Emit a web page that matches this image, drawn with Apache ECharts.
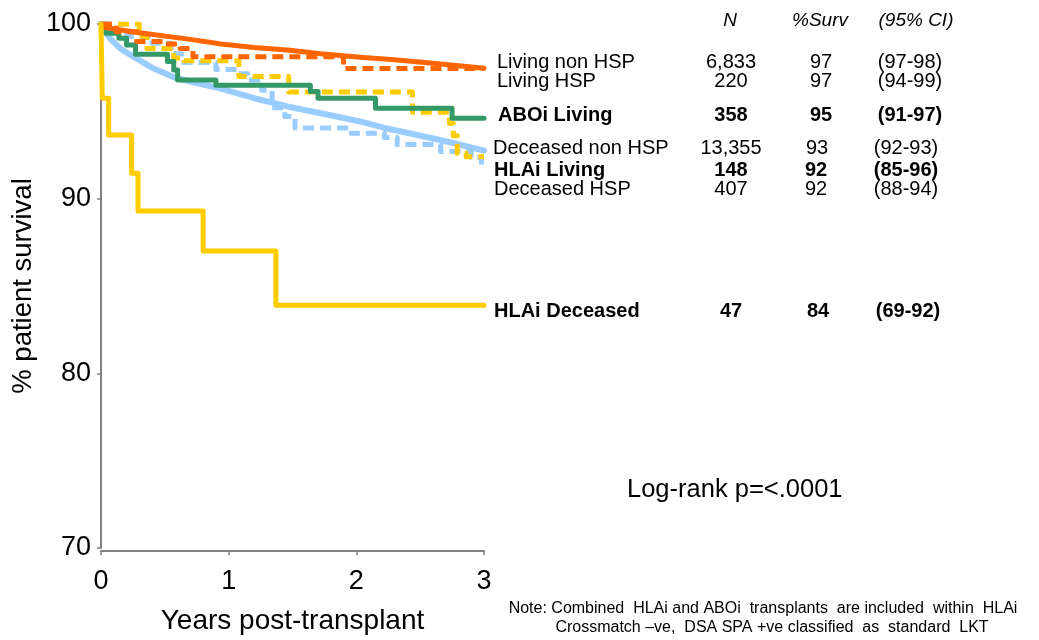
<!DOCTYPE html>
<html>
<head>
<meta charset="utf-8">
<script src="https://cdn.jsdelivr.net/npm/echarts@6/dist/echarts.min.js"></script>
<style>
  html, body { margin: 0; padding: 0; background: #fff; }
  #chart { width: 1039px; height: 640px; }
</style>
</head>
<body>
<div id="chart"></div>
<script>
// --- data ---
var yearTicks = [0, 1, 2, 3];
var survTicks = [70, 80, 90, 100];

var groupNames = ['Living non HSP', 'Living HSP', 'ABOi Living', 'Deceased non HSP', 'HLAi Living', 'Deceased HSP', 'HLAi Deceased'];
var groupN = ['6,833', '220', '358', '13,355', '148', '407', '47'];
var groupSurv = ['97', '97', '95', '93', '92', '92', '84'];
var groupCI = ['(97-98)', '(94-99)', '(91-97)', '(92-93)', '(85-96)', '(88-94)', '(69-92)'];
var groupBold = [false, false, true, false, true, false, true];

var livingNonHspYears = [0, 0.03, 0.3, 0.7, 0.94, 1.2, 1.48, 1.72, 2.03, 2.3, 2.6, 3];
var livingNonHspSurv = [100, 99.8, 99.5, 99.12, 98.85, 98.65, 98.5, 98.3, 98.1, 97.95, 97.75, 97.47];

var livingHspYears = [0, 0.12, 0.28, 0.5, 0.62, 0.72, 1.9, 3];
var livingHspSurv = [100, 99.55, 99.0, 98.85, 98.6, 98.13, 97.45, 97.45];

var aboiLivingYears = [0, 0.04, 0.14, 0.2, 0.27, 0.52, 0.57, 0.6, 0.9, 1.64, 1.7, 2.15, 2.75, 3];
var aboiLivingSurv = [100, 99.47, 99.18, 98.8, 98.27, 97.85, 97.37, 96.8, 96.5, 96.13, 95.75, 95.18, 94.6, 94.6];

var deceasedNonHspYears = [0, 0.03, 0.08, 0.15, 0.26, 0.4, 0.57, 0.7, 0.94, 1.2, 1.46, 1.75, 2.03, 2.25, 2.47, 2.75, 3];
var deceasedNonHspSurv = [100, 99.6, 99.1, 98.6, 98.1, 97.5, 96.95, 96.7, 96.3, 95.75, 95.28, 94.85, 94.42, 94.0, 93.66, 93.2, 92.75];

var hlaiLivingYears = [0, 0.2, 0.4, 0.55, 0.63, 0.9, 1.08, 1.15, 1.26, 1.34, 1.44, 1.52, 1.96, 2.22, 2.32, 2.66, 2.9, 2.98, 3];
var hlaiLivingSurv = [100, 99.3, 98.9, 98.3, 97.8, 97.4, 97.15, 96.8, 96.2, 95.2, 94.7, 94.05, 93.75, 93.5, 93.1, 92.7, 92.35, 91.9, 91.9];

var deceasedHspYears = [0, 0.3, 0.36, 0.57, 0.65, 1.08, 1.47, 2.44, 2.73, 2.76, 2.79, 2.86, 3];
var deceasedHspSurv = [100, 99.3, 98.6, 98.05, 97.9, 97.0, 96.1, 94.95, 94.3, 93.6, 92.6, 92.4, 92.4];

var hlaiDeceasedYears = [0, 0.01, 0.06, 0.24, 0.29, 0.8, 1.37, 3];
var hlaiDeceasedSurv = [100, 95.75, 93.65, 91.45, 89.3, 87.0, 83.9, 83.9];

var logRankText = 'Log-rank p=<.0001';
var noteLines = ['Note: Combined  HLAi and ABOi  transplants  are included  within  HLAi', 'Crossmatch \u2013ve,  DSA SPA +ve classified  as  standard  LKT'];

(function() {
  var font = '"Liberation Sans", Arial, sans-serif';
  var axisGrey = '#808080';

  function pairs(xs, ys) {
    return xs.map(function(x, i) { return [x, ys[i]]; });
  }

  function curve(name, xs, ys, color, width, dashed, stepped) {
    return {
      name: name,
      type: 'line',
      data: pairs(xs, ys),
      step: stepped ? 'end' : false,
      symbol: 'none',
      silent: true,
      lineStyle: {
        color: color,
        width: width,
        type: dashed ? [11, 6] : 'solid',
        cap: dashed ? 'butt' : 'round',
        join: 'round'
      }
    };
  }

  // table at the right of the plot
  var rowTop = [62, 81, 115, 148, 170, 189, 311];
  var labelLeft = [497, 497, 498, 493, 494, 494, 494];
  var survMid = [821, 821, 821, 817, 816, 816, 818];
  var ciMid = [910, 910, 910, 906, 906, 906, 908];

  function txt(s, x, y, align, weight, style, size) {
    return {
      type: 'text', x: x, y: y, silent: true,
      style: {
        text: s, fill: '#000',
        font: (style || 'normal') + ' ' + (weight || 'normal') + ' ' + (size || 20) + 'px ' + font,
        align: align, verticalAlign: 'middle',
        textAlign: align, textVerticalAlign: 'middle'
      }
    };
  }

  var graphics = [
    txt('N', 730, 21, 'center', 'normal', 'italic', 19),
    txt('%Surv', 820, 21, 'center', 'normal', 'italic', 19),
    txt('(95% CI)', 916, 21, 'center', 'normal', 'italic', 19)
  ];
  groupNames.forEach(function(g, i) {
    var w = groupBold[i] ? 'bold' : 'normal';
    graphics.push(txt(g, labelLeft[i], rowTop[i], 'left', w));
    graphics.push(txt(groupN[i], 731, rowTop[i], 'center', w));
    graphics.push(txt(groupSurv[i], survMid[i], rowTop[i], 'center', w));
    graphics.push(txt(groupCI[i], ciMid[i], rowTop[i], 'center', w));
  });
  graphics.push(txt(logRankText, 627, 490, 'left', 'normal', 'normal', 25.5));
  graphics.push(txt(noteLines[0], 763, 609, 'center', 'normal', 'normal', 16));
  graphics.push(txt(noteLines[1], 772, 628, 'center', 'normal', 'normal', 16));

  var chart = echarts.init(document.getElementById('chart'));
  chart.setOption({
    animation: false,
    backgroundColor: '#fff',
    grid: { left: 101, right: 555, top: 24, bottom: 90 },
    xAxis: {
      type: 'value',
      min: yearTicks[0], max: yearTicks[yearTicks.length - 1], interval: 1,
      offset: 3,
      name: 'Years post-transplant',
      nameLocation: 'middle', nameGap: 56,
      nameTextStyle: { color: '#000', fontSize: 28, fontFamily: font },
      axisLine: { lineStyle: { color: axisGrey, width: 2 } },
      axisTick: { show: true, length: 4, lineStyle: { color: axisGrey, width: 1.5 } },
      axisLabel: { color: '#000', fontSize: 27, fontFamily: font, margin: 17 },
      splitLine: { show: false }
    },
    yAxis: {
      type: 'value',
      min: survTicks[0], max: survTicks[survTicks.length - 1], interval: 10,
      offset: 3,
      name: '% patient survival',
      nameLocation: 'middle', nameGap: 61, nameRotate: 90,
      nameTextStyle: { color: '#000', fontSize: 27.5, fontFamily: font },
      axisLine: { show: true, lineStyle: { color: axisGrey, width: 2 } },
      axisTick: { show: true, length: 4, lineStyle: { color: axisGrey, width: 1.5 } },
      axisLabel: { color: '#000', fontSize: 27, fontFamily: font, margin: 7 },
      splitLine: { show: false }
    },
    series: [
      curve('Deceased non HSP', deceasedNonHspYears, deceasedNonHspSurv, '#99CCFF', 6, false, false),
      curve('HLAi Living', hlaiLivingYears, hlaiLivingSurv, '#99CCFF', 5, true, true),
      curve('Deceased HSP', deceasedHspYears, deceasedHspSurv, '#FFCC00', 5, true, true),
      curve('ABOi Living', aboiLivingYears, aboiLivingSurv, '#339966', 5, false, true),
      curve('Living HSP', livingHspYears, livingHspSurv, '#FF6600', 5, true, true),
      curve('Living non HSP', livingNonHspYears, livingNonHspSurv, '#FF6600', 5, false, false),
      curve('HLAi Deceased', hlaiDeceasedYears, hlaiDeceasedSurv, '#FFCC00', 5, false, true)
    ],
    graphic: graphics
  });
  window.addEventListener('resize', function() { chart.resize(); });
})();
</script>
</body>
</html>
